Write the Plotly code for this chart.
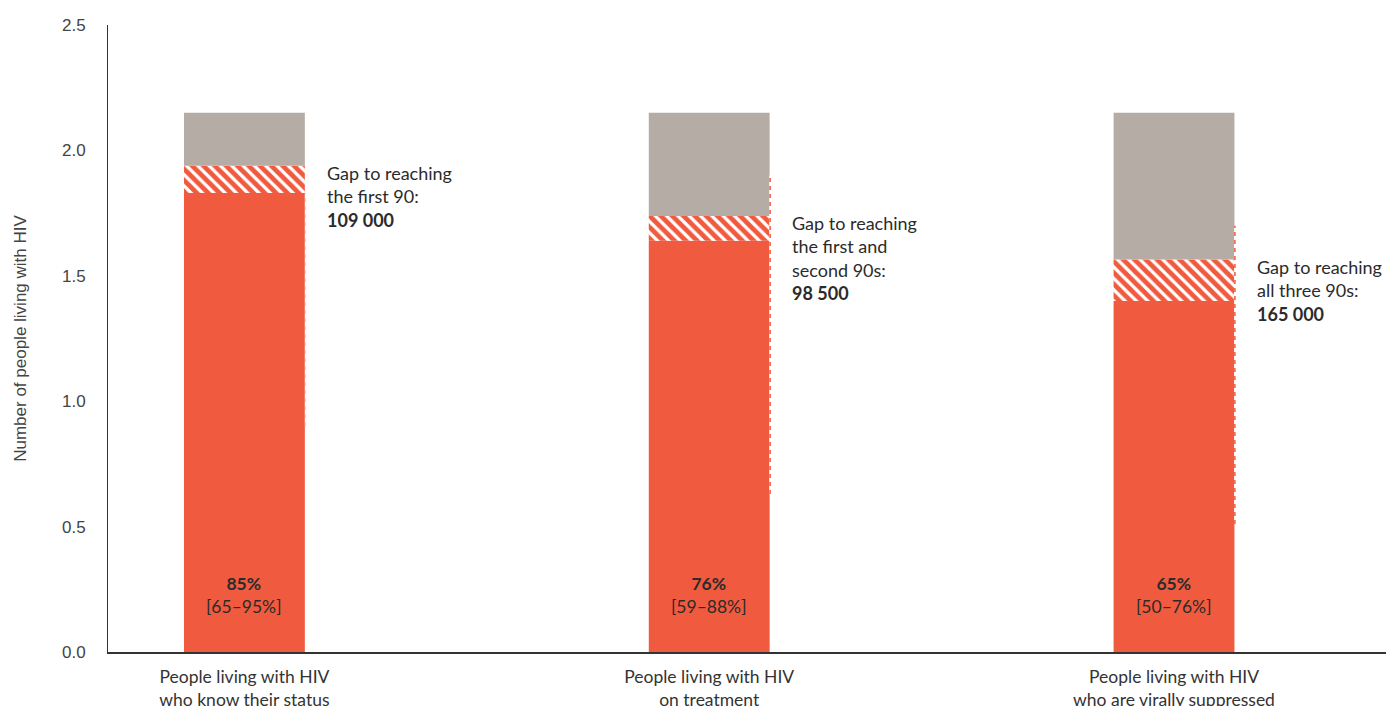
import plotly.graph_objects as go

categories = ["People living with HIV<br>who know their status",
              "People living with HIV<br>on treatment",
              "People living with HIV<br>who are virally suppressed"]
total_plhiv = [2.15, 2.15, 2.15]
achieved = [1.83, 1.64, 1.40]
gap = [0.109, 0.0985, 0.165]
pct_labels = ["85%", "76%", "65%"]
range_labels = ["[65–95%]", "[59–88%]", "[50–76%]"]
gap_texts = ["Gap to reaching<br>the first 90:", "Gap to reaching<br>the first and<br>second 90s:", "Gap to reaching<br>all three 90s:"]
gap_numbers = ["109 000", "98 500", "165 000"]
unc_low = [0.90, 0.63, 0.51]
unc_high = [1.83, 1.90, 1.70]
unc_opacity = [0.25, 1.0, 1.0]
y_ticks = [0.0, 0.5, 1.0, 1.5, 2.0, 2.5]

RED = "#F05A3E"
GREY = "#B5ACA6"
TXT = "#2b2b2b"
BW = 0.26
FONT = "Lato"

xs = list(range(len(categories)))
hatch_top = [a + g for a, g in zip(achieved, gap)]
rest = [t - h for t, h in zip(total_plhiv, hatch_top)]

fig = go.Figure()
fig.add_trace(go.Bar(x=xs, y=achieved, base=[0] * 3, width=BW, marker=dict(color=RED, line=dict(width=0)), hoverinfo="skip"))
fig.add_trace(go.Bar(x=xs, y=gap, base=achieved, width=BW,
                     marker=dict(color="white", line=dict(width=0),
                                 pattern=dict(shape="\\", fgcolor=RED, bgcolor="white", size=8,
                                              solidity=0.6, fgopacity=1)),
                     hoverinfo="skip"))
fig.add_trace(go.Bar(x=xs, y=rest, base=hatch_top, width=BW, marker=dict(color=GREY, line=dict(width=0)), hoverinfo="skip"))

for i in xs:
    xe = i + BW / 2 + 0.001
    fig.add_trace(go.Scatter(x=[xe, xe], y=[unc_low[i], unc_high[i]], mode="lines",
                             line=dict(color="white", width=1.5), opacity=unc_opacity[i], hoverinfo="skip"))
    fig.add_trace(go.Scatter(x=[xe, xe], y=[unc_low[i], unc_high[i]], mode="lines",
                             line=dict(color=RED, width=1.5, dash="4px,4px"), opacity=unc_opacity[i], hoverinfo="skip"))
    fig.add_annotation(x=i + 0.18, y=hatch_top[i], xref="x", yref="y", xanchor="left", yanchor="top",
                       align="left", showarrow=False, yshift=6, xshift=-3,
                       text=gap_texts[i] + "<br><b>" + gap_numbers[i] + "</b>",
                       font=dict(family=FONT, size=18, color=TXT))
    fig.add_annotation(x=i, y=0.13, xref="x", yref="y", xanchor="center", yanchor="bottom",
                       align="center", showarrow=False,
                       text="<b>" + pct_labels[i] + "</b><br>" + range_labels[i],
                       font=dict(family=FONT, size=17.5, color=TXT))

fig.update_layout(
    width=1394, height=706, barmode="overlay", showlegend=False,
    plot_bgcolor="white", paper_bgcolor="white",
    margin=dict(l=100, r=0, t=17, b=62, autoexpand=False),
    xaxis=dict(range=[-0.2935, 2.4905], tickvals=xs, ticktext=categories, showgrid=False, zeroline=False,
               showline=True, linecolor="#333", linewidth=1.5, ticks="", automargin=False,
               ticklabelstandoff=8,
               tickfont=dict(family=FONT, size=17.5, color="#333")),
    yaxis=dict(range=[0, 2.5], tickvals=y_ticks, tickformat=".1f", showgrid=False, zeroline=False,
               showline=True, linecolor="#333", linewidth=1, ticks="", ticklabelstandoff=18,
               automargin=False,
               tickfont=dict(family="Liberation Sans", size=17, color="#444"),
               title=dict(text="Number of people living with HIV", standoff=31,
                          font=dict(family="Liberation Sans", size=17, color="#444"))),
)
fig.write_html("out.html")
